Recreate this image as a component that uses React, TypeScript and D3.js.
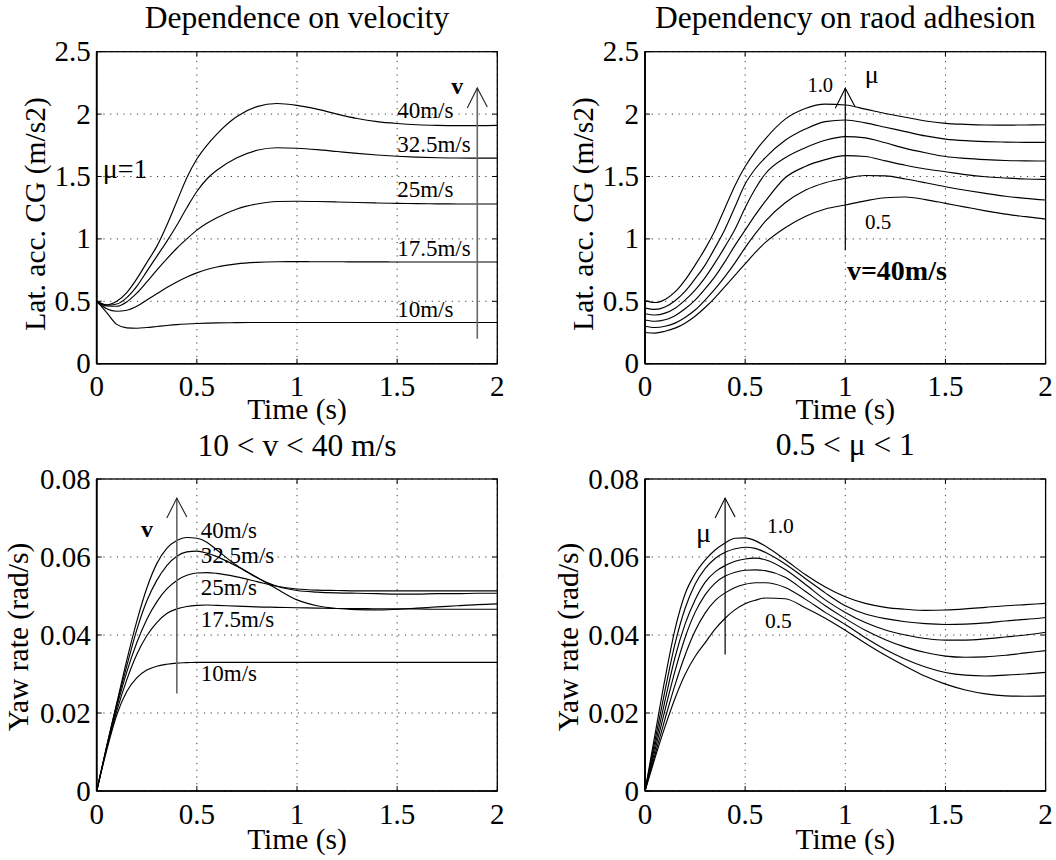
import React from "react";
import * as d3 from "d3";

// ---------- data ----------
const TIME = [0, 0.05, 0.1, 0.15, 0.2, 0.25, 0.3, 0.35, 0.4, 0.45, 0.5, 0.55, 0.6, 0.7, 0.8, 0.9, 1.0, 1.1, 1.2, 1.3, 1.4, 1.5, 1.6, 1.7, 1.8, 1.9, 2.0];

// Top-left: lateral acceleration vs. velocity (mu = 1)
const velocityLabels = ["40m/s", "32.5m/s", "25m/s", "17.5m/s", "10m/s"];
const accV40 = [0.5, 0.472, 0.5, 0.57, 0.68, 0.81, 0.94, 1.11, 1.3, 1.49, 1.64, 1.75, 1.84, 1.98, 2.06, 2.085, 2.07, 2.04, 2.0, 1.965, 1.94, 1.925, 1.915, 1.91, 1.908, 1.908, 1.91];
const accV325 = [0.5, 0.468, 0.478, 0.53, 0.62, 0.74, 0.86, 0.98, 1.11, 1.25, 1.38, 1.48, 1.55, 1.65, 1.71, 1.73, 1.726, 1.715, 1.7, 1.685, 1.672, 1.662, 1.655, 1.65, 1.648, 1.647, 1.647];
const accV25 = [0.5, 0.462, 0.46, 0.495, 0.565, 0.655, 0.75, 0.84, 0.925, 1.0, 1.07, 1.125, 1.17, 1.24, 1.28, 1.3, 1.302, 1.3, 1.296, 1.292, 1.288, 1.285, 1.283, 1.281, 1.28, 1.28, 1.28];
const accV175 = [0.5, 0.44, 0.42, 0.428, 0.46, 0.51, 0.56, 0.61, 0.655, 0.695, 0.728, 0.755, 0.775, 0.8, 0.812, 0.817, 0.818, 0.817, 0.817, 0.816, 0.816, 0.815, 0.815, 0.815, 0.815, 0.815, 0.815];
const accV10 = [0.5, 0.41, 0.315, 0.287, 0.284, 0.29, 0.298, 0.306, 0.313, 0.318, 0.322, 0.325, 0.327, 0.329, 0.33, 0.33, 0.33, 0.33, 0.33, 0.33, 0.33, 0.33, 0.33, 0.33, 0.33, 0.33, 0.33];

// Top-right: lateral acceleration vs. road adhesion (v = 40 m/s), mu 1.0 -> 0.5
const accMu10 = [0.505, 0.49, 0.515, 0.575, 0.67, 0.79, 0.92, 1.07, 1.25, 1.43, 1.58, 1.7, 1.8, 1.96, 2.045, 2.08, 2.073, 2.04, 2.005, 1.975, 1.945, 1.926, 1.918, 1.913, 1.912, 1.913, 1.915];
const accMu09 = [0.445, 0.435, 0.455, 0.505, 0.58, 0.68, 0.79, 0.93, 1.08, 1.26, 1.44, 1.56, 1.65, 1.79, 1.88, 1.94, 1.953, 1.93, 1.895, 1.86, 1.825, 1.8, 1.787, 1.78, 1.776, 1.774, 1.774];
const accMu08 = [0.4, 0.39, 0.405, 0.445, 0.51, 0.59, 0.69, 0.81, 0.94, 1.08, 1.25, 1.4, 1.52, 1.65, 1.73, 1.79, 1.82, 1.81, 1.77, 1.725, 1.69, 1.66, 1.645, 1.635, 1.628, 1.625, 1.624];
const accMu07 = [0.35, 0.34, 0.352, 0.385, 0.44, 0.51, 0.6, 0.7, 0.82, 0.95, 1.07, 1.19, 1.3, 1.49, 1.58, 1.635, 1.667, 1.66, 1.625, 1.59, 1.56, 1.538, 1.515, 1.498, 1.488, 1.48, 1.477];
const accMu06 = [0.3, 0.29, 0.3, 0.325, 0.37, 0.43, 0.51, 0.6, 0.7, 0.81, 0.93, 1.04, 1.14, 1.29, 1.39, 1.45, 1.486, 1.508, 1.505, 1.48, 1.45, 1.418, 1.39, 1.365, 1.342, 1.325, 1.312];
const accMu05 = [0.25, 0.245, 0.26, 0.285, 0.325, 0.38, 0.45, 0.53, 0.62, 0.71, 0.8, 0.89, 0.97, 1.09, 1.18, 1.24, 1.272, 1.305, 1.33, 1.336, 1.315, 1.285, 1.255, 1.225, 1.198, 1.178, 1.159];

// Bottom-left: yaw rate vs. velocity
const yawV40 = [0, 0.0115, 0.0225, 0.0335, 0.0435, 0.052, 0.0583, 0.0622, 0.0642, 0.065, 0.0648, 0.0638, 0.0618, 0.0578, 0.0548, 0.0518, 0.049, 0.0475, 0.0468, 0.0465, 0.0464, 0.0466, 0.0469, 0.0472, 0.0475, 0.0478, 0.048];
const yawV325 = [0, 0.0115, 0.0222, 0.032, 0.0413, 0.0487, 0.054, 0.0578, 0.0602, 0.0613, 0.0615, 0.061, 0.0601, 0.0576, 0.0547, 0.0525, 0.0514, 0.051, 0.0508, 0.0507, 0.0506, 0.0505, 0.0505, 0.0506, 0.0506, 0.0507, 0.0507];
const yawV25 = [0, 0.0112, 0.0215, 0.0305, 0.038, 0.044, 0.0485, 0.0518, 0.054, 0.0553, 0.0559, 0.056, 0.0558, 0.0549, 0.0537, 0.0525, 0.0518, 0.0515, 0.0514, 0.0513, 0.0513, 0.0513, 0.0513, 0.0513, 0.0513, 0.0513, 0.0513];
const yawV175 = [0, 0.011, 0.0205, 0.0285, 0.035, 0.0398, 0.0432, 0.0455, 0.0467, 0.0473, 0.0476, 0.0477, 0.0476, 0.0474, 0.0472, 0.0471, 0.047, 0.0469, 0.0468, 0.0468, 0.0467, 0.0467, 0.0467, 0.0466, 0.0466, 0.0466, 0.0466];
const yawV10 = [0, 0.0105, 0.0195, 0.0255, 0.029, 0.031, 0.032, 0.0325, 0.0328, 0.0329, 0.033, 0.033, 0.033, 0.033, 0.033, 0.033, 0.033, 0.033, 0.033, 0.033, 0.033, 0.033, 0.033, 0.033, 0.033, 0.033, 0.033];

// Bottom-right: yaw rate vs. road adhesion, mu 1.0 -> 0.5
const yawMu10 = [0, 0.0145, 0.0288, 0.0415, 0.0505, 0.0557, 0.0592, 0.0618, 0.0636, 0.0648, 0.0649, 0.0642, 0.0628, 0.0593, 0.0555, 0.0523, 0.0498, 0.0481, 0.0471, 0.0466, 0.0463, 0.0464, 0.0467, 0.0471, 0.0475, 0.0478, 0.0481];
const yawMu09 = [0, 0.013, 0.0258, 0.0378, 0.0468, 0.053, 0.057, 0.0596, 0.0612, 0.0621, 0.0625, 0.0622, 0.0612, 0.0582, 0.0545, 0.0508, 0.0475, 0.0454, 0.0442, 0.0434, 0.0429, 0.0427, 0.0428, 0.0431, 0.0436, 0.044, 0.0445];
const yawMu08 = [0, 0.0117, 0.0232, 0.0343, 0.0428, 0.049, 0.0535, 0.0562, 0.0578, 0.0589, 0.0595, 0.0597, 0.0593, 0.0568, 0.053, 0.049, 0.0458, 0.0432, 0.0413, 0.04, 0.0391, 0.0387, 0.0387, 0.039, 0.0395, 0.04, 0.0407];
const yawMu07 = [0, 0.0105, 0.0208, 0.0308, 0.0393, 0.0458, 0.0503, 0.0533, 0.0551, 0.0561, 0.0566, 0.0567, 0.0565, 0.0548, 0.0512, 0.0475, 0.0442, 0.0412, 0.0388, 0.0369, 0.0355, 0.0346, 0.0343, 0.0344, 0.0348, 0.0354, 0.036];
const yawMu06 = [0, 0.0093, 0.0185, 0.0272, 0.0348, 0.041, 0.0456, 0.0488, 0.0508, 0.0522, 0.053, 0.0534, 0.0534, 0.0522, 0.0492, 0.0458, 0.0427, 0.0393, 0.0363, 0.0338, 0.0318, 0.0304, 0.0297, 0.0295, 0.0297, 0.03, 0.0304];
const yawMu05 = [0, 0.0085, 0.0165, 0.0238, 0.0299, 0.0345, 0.038, 0.0415, 0.0443, 0.0465, 0.048, 0.0489, 0.0495, 0.0493, 0.047, 0.0443, 0.0412, 0.0379, 0.0348, 0.032, 0.0294, 0.0274, 0.0259, 0.0249, 0.0244, 0.0243, 0.0244];

// axes ticks
const timeTicks = [0, 0.5, 1, 1.5, 2];
const timeTickLabels = ["0", "0.5", "1", "1.5", "2"];
const accTicks = [0, 0.5, 1, 1.5, 2, 2.5];
const accTickLabels = ["0", "0.5", "1", "1.5", "2", "2.5"];
const yawTicks = [0, 0.02, 0.04, 0.06, 0.08];
const yawTickLabels = ["0", "0.02", "0.04", "0.06", "0.08"];

// ---------- layout ----------
const FONT = "'Liberation Serif', 'Times New Roman', Times, serif";
const PW = 400.6;
const PH = 312;
const LEFT_COL = 96.7;
const RIGHT_COL = 645;
const TOP_ROW = 51.7;
const BOTTOM_ROW = 479;

type Scales = { x: d3.ScaleLinear<number, number>; y: d3.ScaleLinear<number, number> };

function makeScales(left: number, top: number, yMax: number): Scales {
  const x = d3.scaleLinear().domain([0, 2]).range([left, left + PW]);
  const y = d3.scaleLinear().domain([0, yMax]).range([top + PH, top]);
  return { x, y };
}

type PanelProps = {
  s: Scales;
  yTicks: number[];
  yTickLabels: string[];
  series: number[][];
  title: string;
  titleY: number;
  yLabel: string;
  yLabelX: number;
  yLabelY: number;
  xLabelY: number;
  xTickY: number;
};

function Panel(p: PanelProps) {
  const { x, y } = p.s;
  const [x0, x1] = x.range();
  const [y0, y1] = y.range(); // y0 bottom, y1 top
  const line = d3
    .line<number>()
    .x((_, i) => x(TIME[i]))
    .y((d) => y(d))
    .curve(d3.curveMonotoneX);
  const cx = (x0 + x1) / 2;
  return (
    <g>
      {/* grid */}
      {timeTicks.map((t) => (
        <line key={"gx" + t} x1={x(t)} x2={x(t)} y1={y0} y2={y1} stroke="#222" strokeWidth={0.9} strokeDasharray="1.2,5.5" />
      ))}
      {p.yTicks.map((v) => (
        <line key={"gy" + v} x1={x0} x2={x1} y1={y(v)} y2={y(v)} stroke="#222" strokeWidth={0.9} strokeDasharray="1.2,5.5" />
      ))}
      {/* curves */}
      {p.series.map((d, i) => (
        <path key={"s" + i} d={line(d) || ""} fill="none" stroke="#000" strokeWidth={1.15} />
      ))}
      {/* ticks inward */}
      {timeTicks.map((t) => (
        <g key={"tx" + t}>
          <line x1={x(t)} x2={x(t)} y1={y0} y2={y0 - 5} stroke="#000" strokeWidth={1} />
          <line x1={x(t)} x2={x(t)} y1={y1} y2={y1 + 5} stroke="#000" strokeWidth={1} />
        </g>
      ))}
      {p.yTicks.map((v) => (
        <g key={"ty" + v}>
          <line x1={x0} x2={x0 + 5} y1={y(v)} y2={y(v)} stroke="#000" strokeWidth={1} />
          <line x1={x1} x2={x1 - 5} y1={y(v)} y2={y(v)} stroke="#000" strokeWidth={1} />
        </g>
      ))}
      {/* frame */}
      <rect x={x0} y={y1} width={x1 - x0} height={y0 - y1} fill="none" stroke="#000" strokeWidth={1.3} />
      <line x1={x0} x2={x0} y1={y1} y2={y0} stroke="#000" strokeWidth={1.8} />
      <line x1={x0} x2={x1} y1={y0} y2={y0} stroke="#000" strokeWidth={1.6} />
      {/* tick labels */}
      {timeTicks.map((t, i) => (
        <text key={"lx" + t} x={x(t)} y={p.xTickY} textAnchor="middle" fontSize={29}>
          {timeTickLabels[i]}
        </text>
      ))}
      {p.yTicks.map((v, i) => (
        <text key={"ly" + v} x={x0 - 6} y={y(v) + 9.5} textAnchor="end" fontSize={29}>
          {p.yTickLabels[i]}
        </text>
      ))}
      {/* labels */}
      <text x={cx} y={p.xLabelY} textAnchor="middle" fontSize={29.5}>
        Time (s)
      </text>
      <text transform={`translate(${p.yLabelX},${p.yLabelY}) rotate(-90)`} textAnchor="middle" fontSize={29.5}>
        {p.yLabel}
      </text>
      <text x={cx} y={p.titleY} textAnchor="middle" fontSize={31.5}>
        {p.title}
      </text>
    </g>
  );
}

function Arrow({ x, yFrom, yTo, shaft, head }: { x: number; yFrom: number; yTo: number; shaft: string; head: string }) {
  return (
    <g>
      <line x1={x} x2={x} y1={yFrom} y2={yTo} stroke={shaft} strokeWidth={shaft === "#000" ? 1.2 : 1.6} />
      <polyline points={`${x - 10},${yTo + 20} ${x},${yTo} ${x + 10},${yTo + 19}`} fill="none" stroke={head} strokeWidth={1.1} />
    </g>
  );
}

export default function App() {
  const tl = makeScales(LEFT_COL, TOP_ROW, 2.5);
  const tr = makeScales(RIGHT_COL, TOP_ROW, 2.5);
  const bl = makeScales(LEFT_COL, BOTTOM_ROW, 0.08);
  const br = makeScales(RIGHT_COL, BOTTOM_ROW, 0.08);

  const tlSeries = [accV40, accV325, accV25, accV175, accV10];
  const trSeries = [accMu10, accMu09, accMu08, accMu07, accMu06, accMu05];
  const blSeries = [yawV40, yawV325, yawV25, yawV175, yawV10];
  const brSeries = [yawMu10, yawMu09, yawMu08, yawMu07, yawMu06, yawMu05];

  const tlLabelY = [118.3, 151.7, 197.3, 255.7, 316.7];
  const blLabelY = [538, 562.7, 595, 627, 680.7];

  return (
    <svg
      width={1056}
      height={860}
      viewBox="0 0 1056 860"
      style={{ position: "absolute", left: 0, top: 0, background: "#fff" }}
      fontFamily={FONT}
    >
      <rect x={0} y={0} width={1056} height={860} fill="#fff" />
      <Panel s={tl} yTicks={accTicks} yTickLabels={accTickLabels} series={tlSeries} title="Dependence on velocity" titleY={28.3}
        yLabel="Lat. acc. CG (m/s2)" yLabelX={44.5} yLabelY={214} xLabelY={419} xTickY={396} />
      <Panel s={tr} yTicks={accTicks} yTickLabels={accTickLabels} series={trSeries} title="Dependency on raod adhesion" titleY={28.3}
        yLabel="Lat. acc. CG (m/s2)" yLabelX={593} yLabelY={214} xLabelY={419} xTickY={396} />
      <Panel s={bl} yTicks={yawTicks} yTickLabels={yawTickLabels} series={blSeries} title="10 < v < 40 m/s" titleY={455.5}
        yLabel="Yaw rate (rad/s)" yLabelX={28} yLabelY={637} xLabelY={849} xTickY={823.5} />
      <Panel s={br} yTicks={yawTicks} yTickLabels={yawTickLabels} series={brSeries} title="0.5 < μ < 1" titleY={455}
        yLabel="Yaw rate (rad/s)" yLabelX={577.8} yLabelY={637} xLabelY={849} xTickY={823.5} />

      {/* Top-left annotations */}
      <Arrow x={tl.x(1.9)} yFrom={tl.y(0.2)} yTo={tl.y(2.21)} shaft="#666" head="#222" />
      <text x={tl.x(1.77)} y={tl.y(2.16)} fontSize={24} fontWeight="bold">v</text>
      {velocityLabels.map((l, i) => (
        <text key={"tl" + l} x={tl.x(1.5)} y={tlLabelY[i]} fontSize={23}>{l}</text>
      ))}
      <text x={tl.x(0.03)} y={tl.y(1.486)} fontSize={28}>μ=1</text>

      {/* Top-right annotations */}
      <Arrow x={tr.x(1)} yFrom={tr.y(0.91)} yTo={tr.y(2.207)} shaft="#000" head="#000" />
      <text x={tr.x(0.811)} y={tr.y(2.177)} fontSize={20.5}>1.0</text>
      <text x={tr.x(1.097)} y={tr.y(2.247)} fontSize={26}>μ</text>
      <text x={tr.x(1.098)} y={tr.y(1.079)} fontSize={21}>0.5</text>
      <text x={tr.x(1.008)} y={tr.y(0.671)} fontSize={28} fontWeight="bold">v=40m/s</text>

      {/* Bottom-left annotations */}
      <Arrow x={bl.x(0.4)} yFrom={bl.y(0.025)} yTo={bl.y(0.0751)} shaft="#666" head="#222" />
      <text x={bl.x(0.221)} y={bl.y(0.0651)} fontSize={24} fontWeight="bold">v</text>
      {velocityLabels.map((l, i) => (
        <text key={"bl" + l} x={bl.x(0.52)} y={blLabelY[i]} fontSize={23}>{l}</text>
      ))}

      {/* Bottom-right annotations */}
      <Arrow x={br.x(0.4)} yFrom={br.y(0.035)} yTo={br.y(0.0751)} shaft="#000" head="#000" />
      <text x={br.x(0.255)} y={br.y(0.0639)} fontSize={28}>μ</text>
      <text x={br.x(0.609)} y={br.y(0.0662)} fontSize={21.5}>1.0</text>
      <text x={br.x(0.599)} y={br.y(0.0418)} fontSize={21.5}>0.5</text>
    </svg>
  );
}
